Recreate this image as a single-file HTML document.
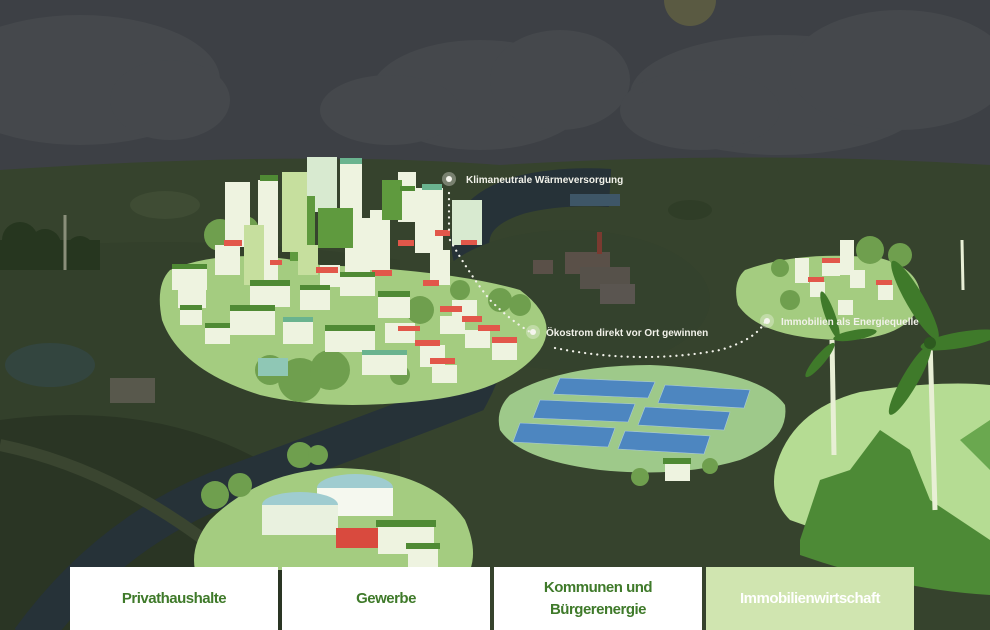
<!DOCTYPE html>
<html><head><meta charset="utf-8"><style>
html,body{margin:0;padding:0;width:990px;height:630px;overflow:hidden;background:#2c3826}
svg{position:absolute;left:0;top:0}
.tab{position:absolute;top:567px;width:208px;height:63px;background:#fff;color:#3f7a2a;font:bold 15px "Liberation Sans",sans-serif;display:flex;align-items:center;justify-content:center;text-align:center;line-height:22px;letter-spacing:-0.5px}
.lbl{font:bold 10px "Liberation Sans",sans-serif;fill:#f2f2ea}
</style></head><body>
<svg width="990" height="630" viewBox="0 0 990 630">
<rect width="990" height="630" fill="#2c3826"/>
<!-- sky -->
<rect width="990" height="175" fill="#3d4045"/>
<g fill="#45484c">
<ellipse cx="80" cy="80" rx="140" ry="65"/><ellipse cx="170" cy="100" rx="60" ry="40"/>
<ellipse cx="480" cy="95" rx="110" ry="55"/><ellipse cx="390" cy="110" rx="70" ry="35"/><ellipse cx="560" cy="80" rx="70" ry="50"/>
<ellipse cx="780" cy="95" rx="150" ry="60"/><ellipse cx="900" cy="70" rx="110" ry="60"/><ellipse cx="700" cy="110" rx="80" ry="40"/>
</g>
<circle cx="690" cy="0" r="26" fill="#5a5a42"/>
<!-- ground bands -->
<path d="M0 170 Q300 150 500 165 Q750 150 990 165 L990 630 L0 630Z" fill="#36432d"/>
<path d="M0 250 Q200 230 400 260 L400 630 L0 630Z" fill="#33402b"/>
<path d="M0 420 Q150 400 260 460 L300 630 L0 630Z" fill="#2a3524"/>
<!-- river -->
<path d="M30 640 Q110 530 230 485 Q380 430 470 395 Q505 330 475 265 Q455 215 520 195 Q560 185 610 188" fill="none" stroke="#263238" stroke-width="38"/>
<path d="M0 445 Q120 470 230 560" fill="none" stroke="#3a4530" stroke-width="12"/>
<!-- distant background bits -->
<ellipse cx="165" cy="205" rx="35" ry="14" fill="#3f4c34"/>
<ellipse cx="50" cy="365" rx="45" ry="22" fill="#33453f"/>
<ellipse cx="570" cy="300" rx="140" ry="70" fill="#34422d"/>
<rect x="565" y="252" width="45" height="22" fill="#5a5048"/><rect x="597" y="232" width="5" height="22" fill="#7a3a30"/>
<rect x="580" y="267" width="50" height="22" fill="#56514a"/><rect x="600" y="284" width="35" height="20" fill="#5a5550"/>
<rect x="533" y="260" width="20" height="14" fill="#5a5048"/>
<rect x="570" y="194" width="50" height="12" fill="#3e5667"/>
<ellipse cx="690" cy="210" rx="22" ry="10" fill="#2f3d27"/>
<rect x="110" y="378" width="45" height="25" fill="#58584c"/>
<g fill="#26361f"><circle cx="20" cy="240" r="18"/><circle cx="45" cy="245" r="16"/><circle cx="80" cy="250" r="14"/><rect x="0" y="240" width="100" height="30"/></g>
<line x1="65" y1="270" x2="65" y2="215" stroke="#8a8f7a" stroke-width="3"/>
<!-- city island -->
<path d="M170 270 Q230 245 320 265 Q450 270 520 290 Q560 320 540 350 Q510 390 430 400 Q330 412 260 395 Q180 370 162 320 Q155 285 170 270Z" fill="#a4cc80"/>
<g fill="#6f9f4e"><circle cx="220" cy="235" r="16"/><circle cx="245" cy="230" r="14"/><circle cx="300" cy="380" r="22"/><circle cx="330" cy="370" r="20"/><circle cx="270" cy="370" r="15"/><circle cx="400" cy="375" r="10"/><circle cx="420" cy="310" r="14"/><circle cx="500" cy="300" r="12"/><circle cx="520" cy="305" r="11"/><circle cx="460" cy="290" r="10"/></g>
<!-- towers -->
<g fill="#eef3e0">
<rect x="225" y="182" width="25" height="65"/><rect x="258" y="180" width="20" height="110"/><rect x="340" y="160" width="22" height="60"/><rect x="398" y="172" width="18" height="50"/>
<rect x="415" y="188" width="28" height="65"/><rect x="345" y="218" width="25" height="60"/><rect x="370" y="210" width="20" height="60"/>
</g>
<g fill="#d8ead0"><rect x="307" y="157" width="30" height="55"/><rect x="452" y="200" width="30" height="45"/></g>
<g fill="#5f9a3e"><rect x="290" y="196" width="25" height="65"/><rect x="318" y="208" width="35" height="40"/><rect x="382" y="180" width="20" height="40"/></g>
<g fill="#c6df9e"><rect x="282" y="172" width="25" height="80"/><rect x="244" y="225" width="20" height="60"/><rect x="298" y="245" width="20" height="30"/></g>
<!-- houses -->
<g fill="#eef3e0">
<rect x="172" y="268" width="35" height="22"/><rect x="178" y="290" width="28" height="18"/><rect x="180" y="310" width="22" height="15"/><rect x="205" y="328" width="25" height="16"/>
<rect x="230" y="310" width="45" height="25"/><rect x="283" y="322" width="30" height="22"/><rect x="325" y="330" width="50" height="22"/><rect x="362" y="355" width="45" height="20"/>
<rect x="250" y="285" width="40" height="22"/><rect x="300" y="290" width="30" height="20"/><rect x="340" y="276" width="35" height="20"/><rect x="378" y="296" width="32" height="22"/>
<rect x="385" y="323" width="30" height="20"/><rect x="420" y="345" width="25" height="22"/><rect x="432" y="365" width="25" height="18"/><rect x="440" y="316" width="25" height="18"/>
<rect x="465" y="330" width="25" height="18"/><rect x="492" y="342" width="25" height="18"/><rect x="452" y="300" width="25" height="18"/><rect x="320" y="265" width="20" height="22"/>
<rect x="215" y="245" width="25" height="30"/><rect x="430" y="250" width="20" height="35"/>
</g>
<g fill="#e2574a">
<rect x="224" y="240" width="18" height="6"/><rect x="270" y="260" width="12" height="5"/><rect x="316" y="267" width="22" height="6"/><rect x="372" y="270" width="20" height="6"/><rect x="398" y="240" width="16" height="6"/>
<rect x="435" y="230" width="15" height="6"/><rect x="461" y="240" width="16" height="5"/><rect x="423" y="280" width="16" height="6"/><rect x="440" y="306" width="22" height="6"/>
<rect x="462" y="316" width="20" height="6"/><rect x="478" y="325" width="22" height="6"/><rect x="415" y="340" width="25" height="6"/><rect x="430" y="358" width="25" height="6"/><rect x="492" y="337" width="25" height="6"/><rect x="398" y="326" width="22" height="5"/>
</g>
<g fill="#4f8a34">
<rect x="172" y="264" width="35" height="5"/><rect x="230" y="305" width="45" height="6"/><rect x="325" y="325" width="50" height="6"/><rect x="250" y="280" width="40" height="6"/><rect x="300" y="285" width="30" height="5"/><rect x="340" y="272" width="35" height="5"/><rect x="378" y="291" width="32" height="6"/><rect x="180" y="305" width="22" height="5"/><rect x="205" y="323" width="25" height="5"/><rect x="260" y="175" width="18" height="6"/><rect x="400" y="186" width="15" height="5"/>
</g>
<g fill="#6ab38f"><rect x="283" y="317" width="30" height="5"/><rect x="362" y="350" width="45" height="5"/><rect x="340" y="158" width="22" height="6"/><rect x="422" y="184" width="20" height="6"/></g>
<rect x="258" y="358" width="30" height="18" fill="#8fc7b5"/>
<!-- solar island -->
<path d="M510 395 Q560 365 650 365 Q760 370 785 405 Q790 440 740 460 Q680 478 600 470 Q520 460 500 430 Q495 410 510 395Z" fill="#9ec98a"/>
<g fill="#4d86c0" stroke="#a8c8e0" stroke-width="0.6">
<polygon points="560,378 655,382 648,398 553,394"/><polygon points="665,385 750,390 744,408 658,403"/>
<polygon points="540,400 635,404 628,422 533,418"/><polygon points="645,407 730,412 724,430 638,425"/>
<polygon points="520,423 615,428 608,447 513,442"/><polygon points="625,431 710,436 704,454 618,449"/>
</g>
<rect x="665" y="463" width="25" height="18" fill="#eef3e0"/><rect x="663" y="458" width="28" height="6" fill="#4f8a34"/>
<g fill="#6f9f4e"><circle cx="640" cy="477" r="9"/><circle cx="710" cy="466" r="8"/></g>
<!-- right island -->
<path d="M745 270 Q800 250 880 258 Q925 270 920 305 Q905 340 840 340 Q760 338 738 305 Q732 282 745 270Z" fill="#a4cc80"/>
<g fill="#6f9f4e"><circle cx="790" cy="300" r="10"/><circle cx="780" cy="268" r="9"/><circle cx="870" cy="250" r="14"/><circle cx="900" cy="255" r="12"/></g>
<g fill="#eef3e0"><rect x="795" y="258" width="14" height="25"/><rect x="822" y="262" width="18" height="14"/><rect x="840" y="240" width="14" height="35"/><rect x="810" y="282" width="15" height="15"/><rect x="850" y="270" width="15" height="18"/><rect x="878" y="285" width="15" height="15"/><rect x="838" y="300" width="15" height="15"/></g>
<g fill="#e2574a"><rect x="822" y="258" width="18" height="5"/><rect x="808" y="277" width="16" height="5"/><rect x="876" y="280" width="16" height="5"/></g>
<!-- right hill -->
<path d="M775 470 Q790 410 860 392 Q940 380 990 385 L990 560 Q900 560 790 520 Q770 500 775 470Z" fill="#b5dc93"/>
<path d="M800 540 L820 480 L850 470 L880 430 L910 450 L930 500 L960 520 L990 540 L990 595 Q900 590 800 555Z" fill="#4d8a36"/>
<path d="M960 440 L990 420 L990 470 Z" fill="#6aa84f"/>
<!-- wind turbines -->
<g stroke="#e8efd5" stroke-width="5"><line x1="930" y1="340" x2="935" y2="510"/><line x1="832" y1="340" x2="834" y2="455"/></g>
<line x1="962" y1="240" x2="963" y2="290" stroke="#e8efd5" stroke-width="3"/>
<g fill="#3f7a2a"><ellipse cx="915" cy="300" rx="9" ry="45" transform="rotate(-30 915 300)"/><ellipse cx="960" cy="340" rx="8" ry="40" transform="rotate(80 960 340)"/><ellipse cx="910" cy="380" rx="8" ry="40" transform="rotate(30 910 380)"/>
<ellipse cx="830" cy="315" rx="5" ry="25" transform="rotate(-20 830 315)"/><ellipse cx="855" cy="335" rx="5" ry="22" transform="rotate(80 855 335)"/><ellipse cx="820" cy="360" rx="5" ry="22" transform="rotate(40 820 360)"/></g>
<circle cx="930" cy="343" r="6" fill="#2d5a1f"/>
<!-- bottom-left island -->
<path d="M210 520 Q260 470 340 468 Q430 470 465 520 Q478 550 470 570 L195 570 Q190 545 210 520Z" fill="#a4cc80"/>
<g fill="#6f9f4e"><circle cx="215" cy="495" r="14"/><circle cx="240" cy="485" r="12"/><circle cx="300" cy="455" r="13"/><circle cx="318" cy="455" r="10"/></g>
<ellipse cx="355" cy="488" rx="38" ry="14" fill="#9fccd0"/><rect x="317" y="488" width="76" height="28" fill="#f5f8ef"/>
<ellipse cx="300" cy="505" rx="38" ry="13" fill="#9fccd0"/><rect x="262" y="505" width="76" height="30" fill="#e9f1df"/>
<rect x="336" y="528" width="45" height="20" fill="#d94a3e"/>
<rect x="378" y="526" width="56" height="28" fill="#eef3e0"/><rect x="376" y="520" width="60" height="7" fill="#4f8a34"/>
<rect x="408" y="548" width="30" height="20" fill="#eef3e0"/><rect x="406" y="543" width="34" height="6" fill="#4f8a34"/>
<!-- callout dotted lines -->
<g fill="none" stroke="#f2f2ea" stroke-width="2.2" stroke-dasharray="0.1 6" stroke-linecap="round">
<line x1="449" y1="193" x2="449" y2="232"/>
<path d="M450 240 Q470 275 490 300 Q510 320 530 332"/>
<path d="M555 348 Q640 365 720 350 Q755 340 765 322"/>
</g>
<g fill="#f5f5ee"><circle cx="449" cy="179" r="7" opacity="0.35"/><circle cx="449" cy="179" r="3"/>
<circle cx="533" cy="332" r="7" opacity="0.35"/><circle cx="533" cy="332" r="3"/>
<circle cx="767" cy="321" r="7" opacity="0.35"/><circle cx="767" cy="321" r="3"/></g>
<text class="lbl" x="466" y="183">Klimaneutrale Wärmeversorgung</text>
<text class="lbl" x="546" y="336">Ökostrom direkt vor Ort gewinnen</text>
<text class="lbl" x="781" y="325">Immobilien als Energiequelle</text>
</svg>
<div class="tab" style="left:70px">Privathaushalte</div>
<div class="tab" style="left:282px">Gewerbe</div>
<div class="tab" style="left:494px">Kommunen und<br>Bürgerenergie</div>
<div class="tab" style="left:706px;background:#d0e5b0;color:#fff">Immobilienwirtschaft</div>
</body></html>
